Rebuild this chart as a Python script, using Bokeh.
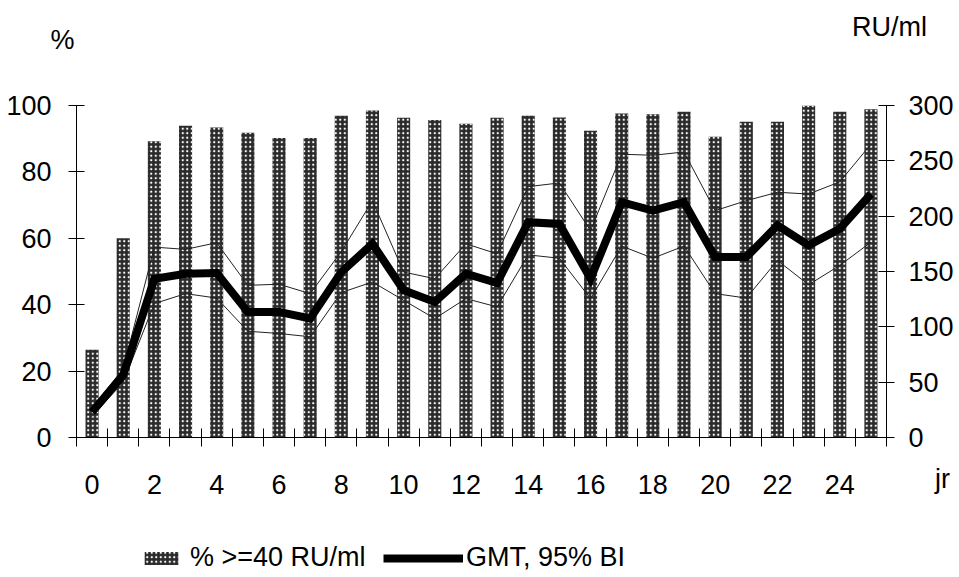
from bokeh.plotting import figure
from bokeh.models import Range1d, LinearAxis, FixedTicker, Label, Legend, LegendItem
from bokeh.embed import file_html
from bokeh.resources import INLINE

# ---- data ----
years = list(range(26))
pct_ge40 = [26.4, 60.0, 89.2, 93.9, 93.4, 91.8, 90.2, 90.2, 96.9, 98.5,
            96.3, 95.6, 94.5, 96.3, 96.9, 96.4, 92.4, 97.6, 97.4, 98.1,
            90.6, 95.1, 95.1, 99.9, 98.1, 98.9]
gmt = [23, 56.5, 143.5, 148, 148.6, 113.5, 113.5, 107.5, 149.5, 175,
       133, 122.5, 148, 139.6, 194.6, 193, 143.5, 212.6, 205, 212.6,
       163, 163, 191.6, 173.6, 188.6, 220]
ci_upper = [27, 62, 172, 170, 176, 137.5, 138.5, 130, 168, 214,
            149.5, 143.5, 175, 166, 226.7, 230, 187, 256, 255, 258,
            205, 214, 221.6, 220, 231, 265]
ci_lower = [19, 50, 121, 130, 126, 96, 94, 91, 131, 140.5,
            124, 107.5, 125.5, 118, 165, 162, 125.5, 173, 162, 173,
            130, 126, 160, 138, 155.5, 176.5]
x_ticks = list(range(0, 25, 2))
left_ticks = [0, 20, 40, 60, 80, 100]
right_ticks = [0, 50, 100, 150, 200, 250, 300]

FONT = "Liberation Sans"
FS = "27px"

W, H = 959, 577
# plot area in canvas pixels: left 76, right 886, top 105, bottom 437
PX_X = (886 - 76) / 26.0
PX_Y = (437 - 105) / 100.0
PX_R = (437 - 105) / 300.0
x_rng = Range1d(-0.5 - 76 / PX_X, 25.5 + (W - 886) / PX_X)
y_rng = Range1d(-(H - 437) / PX_Y, 100 + 105 / PX_Y)
r_rng = Range1d(-(H - 437) / PX_R, 300 + 105 / PX_R)

p = figure(width=W, height=H, output_backend="svg", toolbar_location=None,
           x_range=x_rng, y_range=y_rng,
           x_axis_location=None, y_axis_location=None,
           min_border=0, min_border_left=0, min_border_right=0,
           min_border_top=0, min_border_bottom=0)
p.extra_y_ranges = {"ru": r_rng}
p.grid.visible = False
p.outline_line_color = None
p.background_fill_color = "white"
p.border_fill_color = "white"

# bars
r_bar = p.vbar(x=years, top=pct_ge40, width=0.42, bottom=0,
               fill_color="#2a2a2a", line_color=None,
               hatch_pattern="dot", hatch_color="white",
               hatch_scale=4.5, hatch_weight=1.5)

# lines
r_up = p.line(years, ci_upper, y_range_name="ru", line_color="#222222", line_width=1)
r_lo = p.line(years, ci_lower, y_range_name="ru", line_color="#222222", line_width=1)
r_gmt = p.line(years, gmt, y_range_name="ru", line_color="black", line_width=8,
               line_join="miter")

def style(ax):
    ax.axis_line_color = "black"
    ax.major_tick_line_color = "black"
    ax.major_label_text_font = FONT
    ax.major_label_text_font_size = FS
    ax.major_label_text_color = "black"

# x axis
xa = LinearAxis(fixed_location=0, bounds=(-0.5, 25.5),
                ticker=FixedTicker(ticks=x_ticks, minor_ticks=[i - 0.5 for i in range(27)]))
style(xa)
xa.major_tick_in = 0
xa.major_tick_out = 0
xa.minor_tick_in = 9
xa.minor_tick_out = 9
xa.minor_tick_line_color = "black"
xa.major_label_standoff = 28
p.add_layout(xa, "below")

# left axis
ya = LinearAxis(fixed_location=-0.5, bounds=(0, 100), ticker=FixedTicker(ticks=left_ticks))
style(ya)
ya.major_tick_in = 8
ya.major_tick_out = 8
ya.minor_tick_line_color = None
ya.major_label_standoff = 17
p.add_layout(ya, "left")

# right axis
ra = LinearAxis(y_range_name="ru", fixed_location=25.5, bounds=(0, 300),
                ticker=FixedTicker(ticks=right_ticks))
style(ra)
ra.major_tick_in = 8
ra.major_tick_out = 8
ra.minor_tick_line_color = None
ra.major_label_standoff = 14
p.add_layout(ra, "right")

# axis titles
for txt, x, y in [("%", -0.95, 119.6), ("RU/ml", 25.6, 123.5), ("jr", 27.3, -12.6)]:
    p.add_layout(Label(x=x, y=y, text=txt, text_align="center", text_baseline="middle",
                       text_font=FONT, text_font_size=FS, text_color="black"))

# legends
common = dict(orientation="horizontal", padding=0, margin=0, border_line_color=None,
              background_fill_alpha=0, label_text_font=FONT, label_text_font_size=FS,
              label_text_color="black", glyph_height=16)
leg1 = Legend(items=[LegendItem(label="% >=40 RU/ml", renderers=[r_bar])],
              location=(140, 4), glyph_width=42, label_standoff=8, **common)
leg2 = Legend(items=[LegendItem(label="GMT, 95% BI", renderers=[r_gmt])],
              location=(383, 4), glyph_width=80, label_standoff=3, **common)
p.add_layout(leg1)
p.add_layout(leg2)

open("out.html", "w").write(file_html(p, INLINE))
